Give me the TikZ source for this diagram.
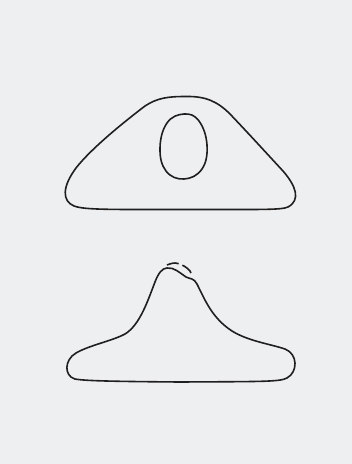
\documentclass[tikz,border=0pt]{standalone}
\begin{document}
\begin{tikzpicture}[x=1pt,y=-1pt,
  outline/.style={draw=black!88,line width=1.6pt,line join=round},
  dashline/.style={draw=black!88,line width=1.6pt,dash pattern=on 12pt off 4pt}]
\fill[fill={rgb,255:red,238;green,239;blue,240}] (0,0) rectangle (352,464);
\useasboundingbox (0,0) rectangle (352,464);
% upper shape
\draw[outline] (185,96.5) .. controls (205,96) and (217,101) .. (230,114)
 .. controls (250,135) and (270,157) .. (283,171)
 .. controls (296,186) and (301,200) .. (288,207)
 .. controls (281,210) and (265,209.5) .. (185,209.5)
 .. controls (110,209.5) and (85,210) .. (74,206)
 .. controls (62,201) and (62,187) .. (76,168)
 .. controls (90,150) and (120,125) .. (145,106)
 .. controls (157,98) and (168,96.5) .. (185,96.5) -- cycle;
% inner oval
\draw[outline] plot[smooth cycle,tension=0.7] coordinates {
 (184,114) (199,121) (207,145) (202,169) (184,179) (166,171) (160,148) (167,123)};
% lower shape
\draw[outline] (167,268) .. controls (174,267) and (180,273) .. (186,277)
 .. controls (190,279) and (194,278) .. (197,284)
 .. controls (205,300) and (212,318) .. (232,331)
 .. controls (248,341) and (270,344) .. (285,349)
 .. controls (298,354) and (298,372) .. (287,378)
 .. controls (280,382) and (260,381.5) .. (180,382)
 .. controls (120,381.5) and (85,381) .. (75,379)
 .. controls (64,376) and (64,360) .. (76,353)
 .. controls (90,345) and (112,341) .. (125,334)
 .. controls (140,325) and (148,300) .. (155,282)
 .. controls (158,274) and (162,268) .. (167,268) -- cycle;
% dashed arc
\draw[dashline] plot[smooth,tension=0.6] coordinates {(167,265) (175,263) (184,266) (190,271) (192,276)};
\end{tikzpicture}
\end{document}
